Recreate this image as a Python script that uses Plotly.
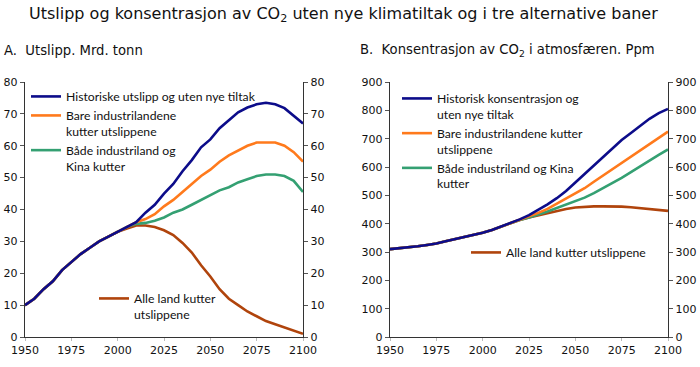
import plotly.graph_objects as go

years = list(range(1950, 2101, 5))

# Panel A: emissions, billion tonnes
emis_base = [10, 12, 15, 17.5, 21, 23.5, 26, 28, 30, 31.5, 33, 34.5, 36, 39, 41.5, 45, 48, 52,
             55.5, 59.5, 62, 65.5, 68, 70.5, 72, 73, 73.5, 73, 71.8, 69.5, 67]
emis_ind = [10, 12, 15, 17.5, 21, 23.5, 26, 28, 30, 31.5, 33, 34.5, 36, 37, 38.5, 41, 43, 45.5,
            48, 50.5, 52.5, 55, 57, 58.5, 60, 61, 61, 61, 60, 58, 55]
emis_ind_china = [10, 12, 15, 17.5, 21, 23.5, 26, 28, 30, 31.5, 33, 34.5, 35.5, 35.8, 36.5, 37.5, 39, 40,
                  41.5, 43, 44.5, 46, 47, 48.5, 49.5, 50.5, 51, 51, 50.5, 49, 45.5]
emis_all = [10, 12, 15, 17.5, 21, 23.5, 26, 28, 30, 31.5, 33, 34, 35, 35, 34.5, 33.5, 32, 29.5,
            26.5, 22.5, 19, 15, 12, 10, 8, 6.5, 5, 4, 3, 2, 1]

# Panel B: CO2 concentration, ppm
conc_base = [310, 313, 317, 320, 325, 330, 338, 345, 353, 360, 368, 378, 390, 402, 415, 430, 448, 468,
             490, 515, 545, 575, 605, 635, 665, 695, 720, 745, 770, 790, 805]
conc_ind = [310, 313, 317, 320, 325, 330, 338, 345, 353, 360, 368, 378, 390, 402, 414, 425, 438, 452,
            470, 488, 505, 525, 548, 570, 592, 615, 637, 660, 682, 703, 725]
conc_ind_china = [310, 313, 317, 320, 325, 330, 338, 345, 353, 360, 368, 378, 390, 402, 413, 422, 432, 443,
                  455, 467, 478, 492, 508, 525, 543, 562, 582, 603, 623, 643, 662]
conc_all = [310, 313, 317, 320, 325, 330, 338, 345, 353, 360, 368, 378, 390, 402, 413, 422, 430, 438,
            446, 452, 457, 460, 461, 461, 461, 460, 458, 455, 452, 449, 445]

x_ticks = [1950, 1975, 2000, 2025, 2050, 2075, 2100]

names_a = ["Historiske utslipp og uten nye tiltak",
           "Bare industrilandene<br>kutter utslippene",
           "Både industriland og<br>Kina kutter",
           "Alle land kutter<br>utslippene"]
names_b = ["Historisk konsentrasjon og<br>uten nye tiltak",
           "Bare industrilandene kutter<br>utslippene",
           "Både industriland og Kina<br>kutter",
           "Alle land kutter utslippene"]

BLUE = "#0c0c8a"
ORANGE = "#ff7a1c"
GREEN = "#34a072"
BROWN = "#b0440c"
LEG_FONT = "Lato"
HEAD_FONT = "DejaVu Sans"
TICK_FONT = "DejaVu Sans"
TXT = "#111111"

W, H = 700, 367
def px(xp):
    return xp / W
def py(yp):
    return 1 - yp / H

fig = go.Figure()

def add(x, y, name, color, xa, ya, legend):
    fig.add_trace(go.Scatter(x=x, y=y, name=name, mode="lines",
                             line=dict(color=color, width=2.6),
                             xaxis=xa, yaxis=ya, legend=legend))

# Panel A (draw order: brown, green, orange, blue)
add(years, emis_all, names_a[3], BROWN, "x", "y", "legend2")
add(years, emis_ind_china, names_a[2], GREEN, "x", "y", "legend")
add(years, emis_ind, names_a[1], ORANGE, "x", "y", "legend")
add(years, emis_base, names_a[0], BLUE, "x", "y", "legend")
# Panel B
add(years, conc_all, names_b[3], BROWN, "x2", "y3", "legend4")
add(years, conc_ind_china, names_b[2], GREEN, "x2", "y3", "legend3")
add(years, conc_ind, names_b[1], ORANGE, "x2", "y3", "legend3")
add(years, conc_base, names_b[0], BLUE, "x2", "y3", "legend3")

# empty traces so the mirrored right-hand axes are drawn
fig.add_trace(go.Scatter(x=[], y=[], xaxis="x", yaxis="y2", showlegend=False, hoverinfo="skip"))
fig.add_trace(go.Scatter(x=[], y=[], xaxis="x2", yaxis="y4", showlegend=False, hoverinfo="skip"))

tickfont = dict(family=TICK_FONT, size=11, color=TXT)
ax_line = dict(showline=True, linecolor="#333333", linewidth=1.4, showgrid=False, zeroline=False,
               ticks="outside", ticklen=4, tickcolor="#555555", automargin=False, tickfont=tickfont)

xdomA = [px(25), px(303)]
xdomB = [px(390), px(668)]
ydom = [py(337), py(82)]

xcommon = dict(range=[1950, 2100], tickvals=x_ticks, showline=True, linecolor="#333333", linewidth=1.4,
               showgrid=False, zeroline=False, ticks="outside", ticklen=3, tickcolor="#bbbbbb",
               automargin=False, tickfont=tickfont)

leg_common = dict(xanchor="left", yanchor="top", valign="top", tracegroupgap=0,
                  font=dict(family=LEG_FONT, size=12.2, color=TXT), bgcolor="rgba(0,0,0,0)")

fig.update_layout(
    width=W, height=H,
    margin=dict(l=0, r=0, t=0, b=0, autoexpand=False),
    paper_bgcolor="white", plot_bgcolor="white",
    font=dict(family=LEG_FONT, color=TXT),
    xaxis=dict(domain=xdomA, anchor="y", **xcommon),
    xaxis2=dict(domain=xdomB, anchor="y3", **xcommon),
    yaxis=dict(domain=ydom, anchor="x", range=[0, 80], dtick=10, side="left", **ax_line),
    yaxis2=dict(range=[0, 80], dtick=10, side="right", overlaying="y", anchor="x", **ax_line),
    yaxis3=dict(domain=ydom, anchor="x2", range=[0, 900], dtick=100, side="left", **ax_line),
    yaxis4=dict(range=[0, 900], dtick=100, side="right", overlaying="y3", anchor="x2", **ax_line),
    legend=dict(x=px(26), y=py(82), traceorder="reversed", **leg_common),
    legend2=dict(x=px(94), y=py(284), **leg_common),
    legend3=dict(x=px(397), y=py(84), traceorder="reversed", **leg_common),
    legend4=dict(x=px(466), y=py(238), **leg_common),
    showlegend=True,
)

fig.add_annotation(text="Utslipp og konsentrasjon av CO<sub>2</sub> uten nye klimatiltak og i tre alternative baner",
                   x=px(343), y=py(14), xref="paper", yref="paper", xanchor="center", yanchor="middle",
                   showarrow=False, font=dict(family=HEAD_FONT, size=16, color=TXT))
fig.add_annotation(text="A.  Utslipp. Mrd. tonn",
                   x=px(2), y=py(51), xref="paper", yref="paper", xanchor="left", yanchor="middle",
                   showarrow=False, font=dict(family=HEAD_FONT, size=13.2, color=TXT))
fig.add_annotation(text="B.  Konsentrasjon av CO<sub>2</sub> i atmosfæren. Ppm",
                   x=px(358), y=py(51), xref="paper", yref="paper", xanchor="left", yanchor="middle",
                   showarrow=False, font=dict(family=HEAD_FONT, size=13.2, color=TXT))

# remove the default page margin so the 700x367 figure fills the window exactly
fig.write_html("out.html", config={"displayModeBar": False},
               post_script="document.body.style.margin='0';document.body.style.overflow='hidden';")
